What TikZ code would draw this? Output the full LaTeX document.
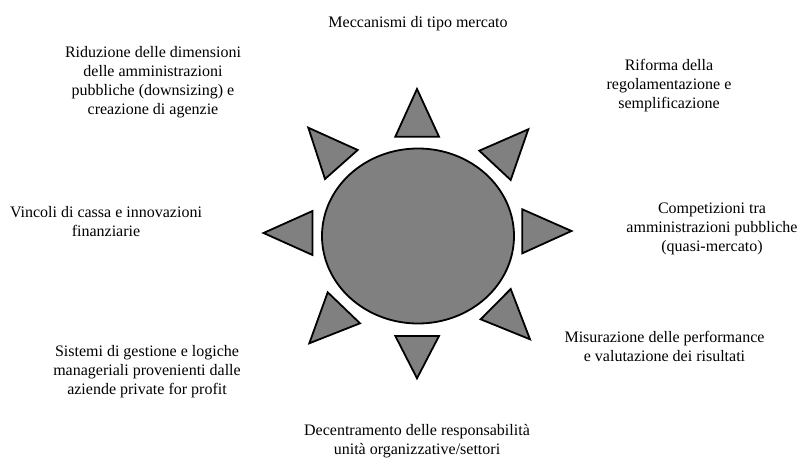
\documentclass[tikz,border=0pt]{standalone}
\usepackage{fontspec}
\setmainfont{Liberation Serif}
\usetikzlibrary{shapes.geometric}
\tikzset{
  ray/.style={draw=black, fill=black!50, line width=1.8pt, line join=miter},
  lbl/.style={align=center, font=\fontsize{16}{19}\selectfont, inner sep=0pt},
}
\begin{document}
\begin{tikzpicture}[x=1pt, y=-1pt]
\useasboundingbox (0,0) rectangle (799,457);
% central body
\node[ellipse, draw=black, fill=black!50, line width=1.8pt, minimum width=192pt, minimum height=175pt, inner sep=0pt] (sun) at (418,236) {};
% rays
\draw[ray] (417,89) -- (395.3,136.7) -- (439,136.7) -- cycle;
\draw[ray] (395.3,336) -- (439,336) -- (417,378.3) -- cycle;
\draw[ray] (263.5,233) -- (312.5,211) -- (312.5,255) -- cycle;
\draw[ray] (571.5,231) -- (522.3,209.3) -- (522.3,253.3) -- cycle;
\draw[ray] (308.3,127.7) -- (357.7,150) -- (325,179) -- cycle;
\draw[ray] (528.3,129.3) -- (479.3,150.7) -- (510.7,180) -- cycle;
\draw[ray] (327.7,292.3) -- (360,323.3) -- (309.3,343.3) -- cycle;
\draw[ray] (510.7,289) -- (480.7,319.3) -- (530,339.3) -- cycle;
% labels
\node[lbl] (t1) at (418,24) {Meccanismi di tipo mercato};
\node[lbl] (t2) at (669,86) {Riforma della\\regolamentazione e\\semplificazione};
\node[lbl] (t3) at (712,229) {Competizioni tra\\amministrazioni pubbliche\\(quasi-mercato)};
\node[lbl] (t4) at (664.5,346) {Misurazione delle performance\\e valutazione dei risultati};
\node[lbl] (t5) at (417,441) {Decentramento delle responsabilità\\unità organizzative/settori};
\node[lbl] (t6) at (147,372) {Sistemi di gestione e logiche\\manageriali provenienti dalle\\aziende private for profit};
\node[lbl] (t7) at (106,222) {Vincoli di cassa e innovazioni\\finanziarie};
\node[lbl] (t8) at (153,82) {Riduzione delle dimensioni\\delle amministrazioni\\pubbliche (downsizing) e\\creazione di agenzie};
\end{tikzpicture}
\end{document}
